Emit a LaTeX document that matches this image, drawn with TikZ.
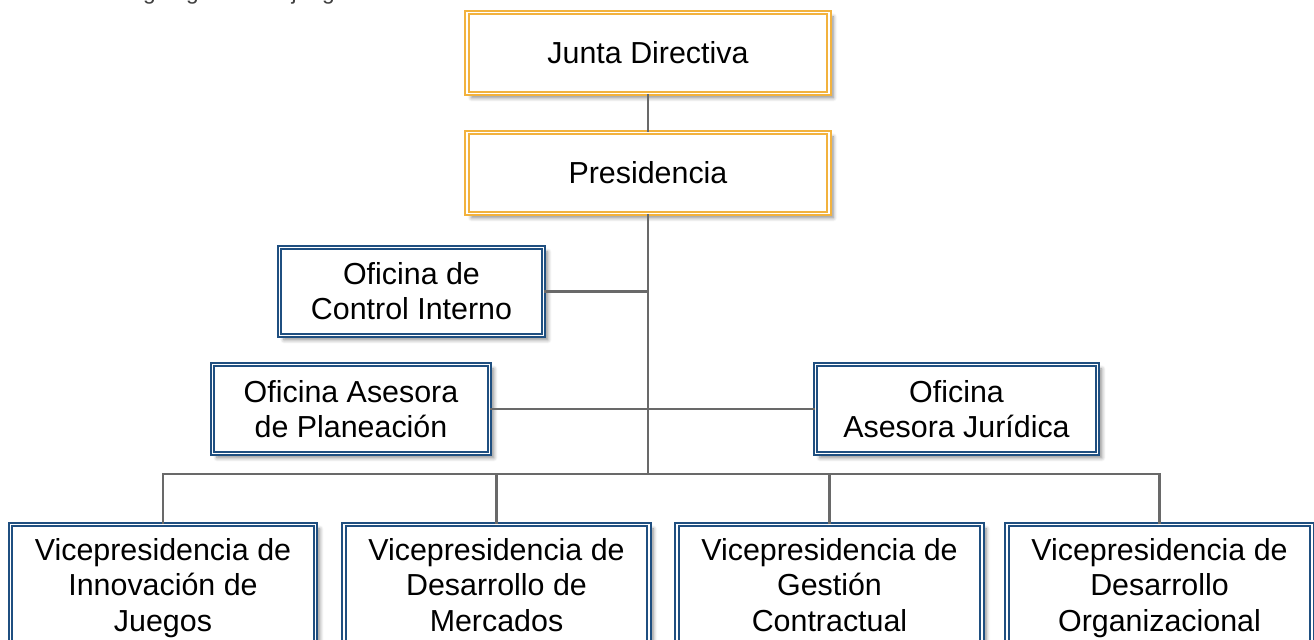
\documentclass[tikz,border=0pt]{standalone}
\usepackage{fontspec}
\setmainfont{Liberation Sans}
\usepackage{xcolor}
\usetikzlibrary{shapes,positioning,shadows.blur}
\definecolor{boxgold}{RGB}{242,178,62}
\definecolor{boxblue}{RGB}{31,79,128}
\definecolor{linkgray}{RGB}{105,105,105}
\tikzset{orgbox/.style={rectangle,fill=white,double=white,double distance=0.9pt,line width=1.1pt,align=center,inner sep=0pt,font=\fontsize{17.3}{20}\selectfont,blur shadow={shadow xshift=2.5pt,shadow yshift=-2.5pt,shadow blur steps=6,shadow opacity=45}},
  topbox/.style={orgbox,draw=boxgold,minimum width=7.24cm,minimum height=1.62cm},
  unitbox/.style={orgbox,draw=boxblue},
  vicebox/.style={unitbox,minimum width=6.1cm,minimum height=2.54cm,execute at end node=\vphantom{g}},
  link/.style={draw=linkgray,line width=1.5pt}}

\begin{document}
\begin{tikzpicture}[x=0.02cm,y=-0.02cm]
    \useasboundingbox (0,0) rectangle (1314,639);
    \node[anchor=base west,text=black!75,font=\fontsize{13}{15}\selectfont] (cap) at (4,-1) {Gráfica 1. Organigrama Coljuegos};

    \node[topbox] (junta) at (648,53) {Junta Directiva};
    \node[topbox] (pres) at (648,173) {Presidencia};
    \node[unitbox,minimum width=5.28cm,minimum height=1.76cm] (ci) at (411.5,291.5) {Oficina de\\Control Interno};
    \node[unitbox,minimum width=5.54cm,minimum height=1.78cm] (plan) at (351,409) {Oficina Asesora\\de Planeación};
    \node[unitbox,minimum width=5.64cm,minimum height=1.78cm] (jur) at (956.5,409) {Oficina\\Asesora Jurídica};
    \node[vicebox] (v1) at (163,588) {Vicepresidencia de\\Innovación de\\Juegos};
    \node[vicebox] (v2) at (496.5,588) {Vicepresidencia de\\Desarrollo de\\Mercados};
    \node[vicebox] (v3) at (829.5,588) {Vicepresidencia de\\Gestión\\Contractual};
    \node[vicebox] (v4) at (1159.5,588) {Vicepresidencia de\\Desarrollo\\Organizacional};
    \coordinate (t) at (648,474);

    \draw [link] (junta) -- (pres);
    \draw [link] (pres) -- (t);
    \draw [link] (ci) -- (ci -| pres);
    \draw [link] (plan) -- (jur);
    \draw [link] (v1) |- (t);
    \draw [link] (v2) |- (t);
    \draw [link] (v3) |- (t);
    \draw [link] (v4) |- (t);
\end{tikzpicture}
\end{document}
